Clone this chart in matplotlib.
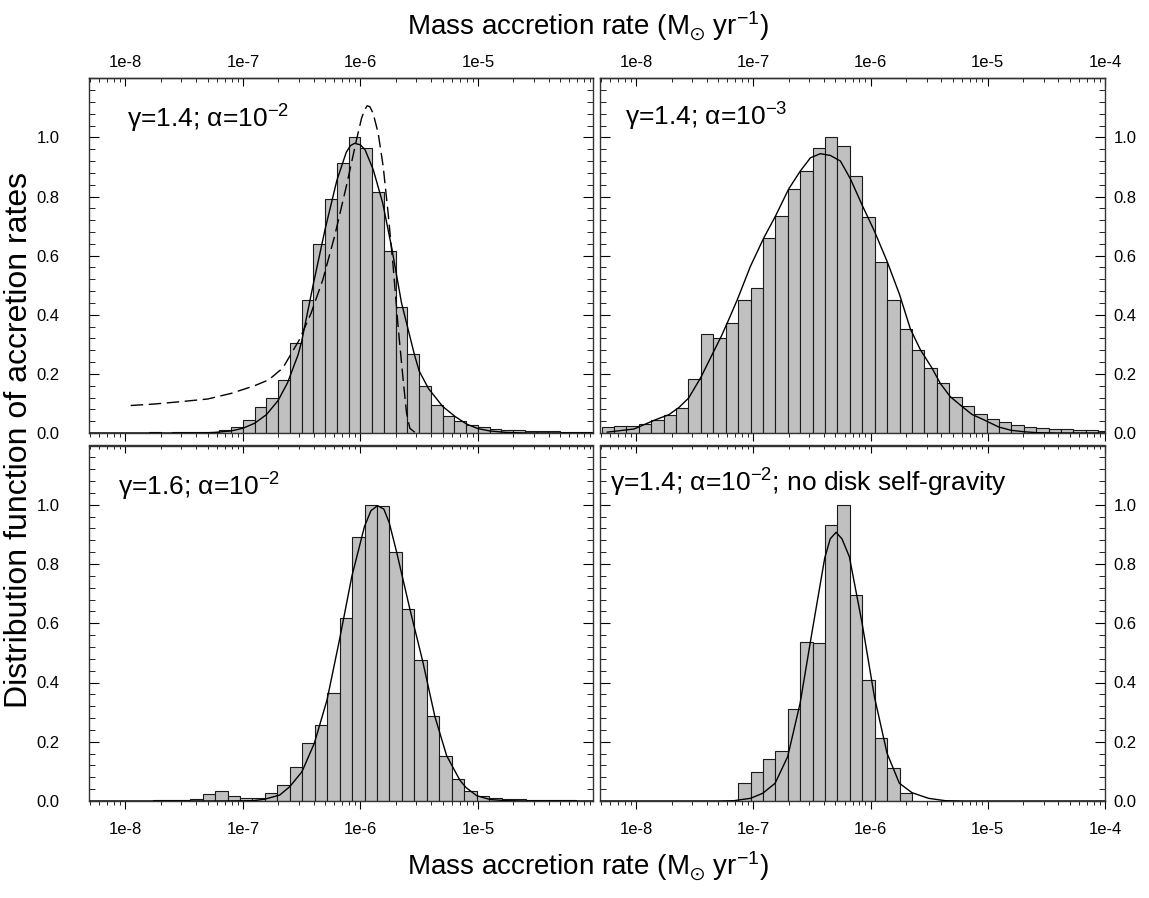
import numpy as np
import matplotlib
matplotlib.use("Agg")
import matplotlib.pyplot as plt
from matplotlib.ticker import FixedLocator, FuncFormatter, MultipleLocator, NullFormatter

plt.rcParams["font.family"] = ["Liberation Sans", "DejaVu Sans"]
plt.rcParams["mathtext.fontset"] = "custom"
plt.rcParams["mathtext.rm"] = "Liberation Sans"
plt.rcParams["mathtext.it"] = "Liberation Sans:italic"
plt.rcParams["mathtext.default"] = "regular"

# histogram bins: log10 of first left edge, bin width in dex
bins_a = (-8.3, 0.1)
bins_b = (-8.297, 0.106)

# gamma=1.4, alpha=1e-2
h_a = [0, 0, 0, 0, 0, 0.002, 0, 0.002, 0.002, 0.002, 0.004,
       0.011, 0.019, 0.045, 0.087, 0.12, 0.178, 0.304, 0.451, 0.639, 0.793,
       0.913, 1.0, 0.964, 0.815, 0.617, 0.426, 0.268, 0.158, 0.096, 0.059,
       0.042, 0.028, 0.019, 0.015, 0.011, 0.009, 0.008, 0.006, 0.006, 0.005,
       0.003, 0.003]
fit_a_x = [-8.3, -7.35, -7.24, -7.10, -7.00, -6.90, -6.80, -6.70, -6.62, -6.53,
           -6.50, -6.40, -6.30, -6.20, -6.12, -6.085, -6.05, -6.0, -5.96, -5.89,
           -5.81, -5.735, -5.65, -5.54, -5.50, -5.42, -5.30, -5.195, -5.095, -5.0,
           -4.9, -4.76, -4.6, -4.0]
fit_a_y = [0, 0, 0.002, 0.007, 0.016, 0.033, 0.062, 0.110, 0.170, 0.265,
           0.31, 0.505, 0.69, 0.855, 0.95, 0.972, 0.98, 0.975, 0.958, 0.89,
           0.778, 0.63, 0.44, 0.265, 0.21, 0.15, 0.09, 0.056, 0.03, 0.015,
           0.007, 0.002, 0, 0]
nosg_x = [-7.955, -7.755, -7.53, -7.30, -7.10, -6.90, -6.78, -6.66, -6.52, -6.42,
          -6.32, -6.22, -6.12, -6.033, -5.99, -5.965, -5.943, -5.92, -5.892, -5.849,
          -5.806, -5.764, -5.721, -5.679, -5.636, -5.607, -5.579, -5.536, -5.50]
nosg_y = [0.093, 0.098, 0.106, 0.115, 0.134, 0.160, 0.180, 0.220, 0.315, 0.405,
          0.518, 0.665, 0.834, 0.992, 1.065, 1.092, 1.107, 1.104, 1.082, 1.015,
          0.902, 0.744, 0.563, 0.36, 0.179, 0.067, 0.016, 0.002, 0]

# gamma=1.4, alpha=1e-3
h_b = [0.020, 0.025, 0.025, 0.032, 0.045, 0.062, 0.086, 0.183, 0.335, 0.322,
       0.372, 0.450, 0.490, 0.661, 0.734, 0.826, 0.887, 0.964, 1.0, 0.972,
       0.868, 0.730, 0.579, 0.450, 0.352, 0.282, 0.220, 0.168, 0.123, 0.090,
       0.063, 0.047, 0.036, 0.027, 0.020, 0.018, 0.0135, 0.012, 0.009, 0.009,
       0.007]
fit_b_x = [-8.2475, -8.020, -7.835, -7.722, -7.637, -7.554, -7.452, -7.338, -7.275, -7.224,
           -7.139, -7.026, -6.912, -6.812, -6.699, -6.599, -6.514, -6.429, -6.344, -6.258,
           -6.173, -6.068, -5.968, -5.860, -5.753, -5.661, -5.576, -5.477, -5.406, -5.321,
           -5.221, -5.136, -5.036, -4.905, -4.800, -4.695, -4.581, -4.4, -4.0]
fit_b_y = [0.003, 0.0135, 0.045, 0.062, 0.086, 0.118, 0.186, 0.277, 0.327, 0.372,
           0.450, 0.564, 0.660, 0.734, 0.826, 0.887, 0.931, 0.945, 0.939, 0.920,
           0.860, 0.767, 0.683, 0.581, 0.468, 0.352, 0.282, 0.220, 0.168, 0.123,
           0.090, 0.063, 0.045, 0.020, 0.009, 0.0045, 0.001, 0, 0]

# gamma=1.6, alpha=1e-2
h_c = [0, 0, 0, 0, 0.001, 0.002, 0.002, 0.003, 0.006, 0.024,
       0.035, 0.018, 0.011, 0.011, 0.028, 0.053, 0.116, 0.197, 0.256, 0.364,
       0.617, 0.890, 1.0, 0.997, 0.841, 0.648, 0.476, 0.287, 0.153, 0.074,
       0.035, 0.017, 0.010, 0.007, 0.006, 0.0045, 0.003, 0.003, 0.002, 0.001,
       0]
fit_c_x = [-8.3, -7.2, -6.915, -6.815, -6.687, -6.602, -6.497, -6.392, -6.284, -6.178,
           -6.073, -5.965, -5.91, -5.854, -5.80, -5.755, -5.692, -5.579, -5.471, -5.366,
           -5.266, -5.153, -5.10, -5.01, -4.897, -4.755, -4.6, -4.0]
fit_c_y = [0, 0, 0.001, 0.006, 0.020, 0.048, 0.099, 0.195, 0.341, 0.544,
           0.758, 0.927, 0.98, 0.997, 0.985, 0.94, 0.841, 0.648, 0.474, 0.285,
           0.153, 0.07, 0.045, 0.018, 0.005, 0.001, 0, 0]

# gamma=1.4, alpha=1e-2, no disk self-gravity
h_d = [0, 0, 0, 0, 0, 0, 0, 0, 0, 0,
       0, 0.060, 0.099, 0.142, 0.170, 0.310, 0.536, 0.534, 0.932, 1.0,
       0.695, 0.408, 0.212, 0.110, 0.028]
fit_d_x = [-8.3, -7.3, -7.168, -7.026, -6.921, -6.815, -6.708, -6.602, -6.497, -6.392,
           -6.345, -6.295, -6.245, -6.182, -6.073, -5.968, -5.860, -5.755, -5.647, -5.506,
           -5.363, -5.2, -4.0]
fit_d_y = [0, 0, 0.001, 0.009, 0.026, 0.06, 0.15, 0.33, 0.578, 0.82,
           0.885, 0.907, 0.885, 0.825, 0.60, 0.352, 0.161, 0.060, 0.028, 0.009,
           0.001, 0, 0]

labels = ["\u03b3=1.4; \u03b1=10$^{-2}$",
          "\u03b3=1.4; \u03b1=10$^{-3}$",
          "\u03b3=1.6; \u03b1=10$^{-2}$",
          "\u03b3=1.4; \u03b1=10$^{-2}$; no disk self-gravity"]

xlabel = r"Mass accretion rate (M$_{\odot}$ yr$^{-1}$)"
ylabel = "Distribution function of accretion rates"

W, H = 1149, 898
fig = plt.figure(figsize=(W / 100, H / 100), dpi=100)


def add_axes(l, t, r, b):
    return fig.add_axes([l / W, 1 - b / H, (r - l) / W, (b - t) / H])


fmt = FuncFormatter(lambda v, p: "1e%d" % round(np.log10(v)))


def set_xticks(axis, xmax):
    majors = [10.0 ** d for d in range(-8, -3) if 10.0 ** d <= xmax * 1.0001]
    minors = [s * 10.0 ** d for d in range(-9, -4) for s in range(2, 10)
              if 4.9e-9 <= s * 10.0 ** d <= xmax]
    axis.set_major_locator(FixedLocator(majors))
    axis.set_minor_locator(FixedLocator(minors))
    axis.set_major_formatter(fmt)
    axis.set_minor_formatter(NullFormatter())


def panel(ax, bins, heights, fx, fy, text, top, left, xmax, extra=None):
    lo, w = bins
    e = lo + w * np.arange(len(heights) + 1)
    ax.bar(10 ** e[:-1], heights, width=10 ** e[1:] - 10 ** e[:-1], align="edge",
           color="#c0c0c0", edgecolor="#1a1a1a", linewidth=0.8, zorder=2)
    ax.plot(10 ** np.array(fx), fy, color="black", lw=1.0, zorder=3)
    if extra is not None:
        ax.plot(10 ** np.array(extra[0]), extra[1], color="black", lw=1.0,
                linestyle=(0, (9, 4)), zorder=3)
    ax.set_xscale("log")
    ax.set_xlim(4.9e-9, xmax)
    ax.set_ylim(0, 1.2)
    for sp in ax.spines.values():
        sp.set_linewidth(1.0)
        sp.set_color("#333333")

    set_xticks(ax.xaxis, xmax)
    ax.tick_params(axis="x", which="both", direction="out", bottom=True, top=False,
                   labelbottom=not top, labelsize=12, pad=9)
    ax.tick_params(axis="x", which="major", length=6)
    ax.tick_params(axis="x", which="minor", length=3)

    sec = ax.secondary_xaxis("top")
    set_xticks(sec.xaxis, xmax)
    sec.tick_params(which="both", direction="in", labeltop=top, labelsize=12, pad=6)
    sec.tick_params(which="major", length=6)
    sec.tick_params(which="minor", length=3)
    sec.spines["top"].set_linewidth(1.0)
    sec.spines["top"].set_color("#333333")

    ax.set_yticks(np.arange(0, 1.01, 0.2))
    ax.yaxis.set_minor_locator(MultipleLocator(0.04))
    ax.yaxis.set_major_formatter(FuncFormatter(lambda v, p: "%.1f" % v))
    ax.tick_params(axis="y", which="both", direction="in", left=True, right=True,
                   labelleft=left, labelright=not left, labelsize=12)
    ax.tick_params(axis="y", which="major", length=7, pad=(21 if left else 6))
    ax.tick_params(axis="y", which="minor", length=4)

    ax.text(text[1], text[2], text[0], transform=ax.transAxes, fontsize=19,
            va="baseline", ha="left")


ax1 = add_axes(89, 78.3, 593.3, 433)
ax2 = add_axes(600, 78.3, 1105, 433)
ax3 = add_axes(89, 445.5, 593.3, 801)
ax4 = add_axes(600, 445.5, 1105, 801)

panel(ax1, bins_a, h_a, fit_a_x, fit_a_y, (labels[0], 0.075, 0.86), True, True, 9.6e-5,
      extra=(nosg_x, nosg_y))
panel(ax2, bins_b, h_b, fit_b_x, fit_b_y, (labels[1], 0.05, 0.868), True, False, 1e-4)
panel(ax3, bins_b, h_c, fit_c_x, fit_c_y, (labels[2], 0.058, 0.86), False, True, 9.6e-5)
panel(ax4, bins_b, h_d, fit_d_x, fit_d_y, (labels[3], 0.02, 0.869), False, False, 1e-4)

fig.text(588 / W, 1 - 26 / H, xlabel, ha="center", va="center", fontsize=20)
fig.text(588 / W, 1 - 866 / H, xlabel, ha="center", va="center", fontsize=20)
fig.text(19 / W, 1 - 440 / H, ylabel, ha="center", va="center", rotation=90, fontsize=23)

fig.savefig("out.png", dpi=100)
